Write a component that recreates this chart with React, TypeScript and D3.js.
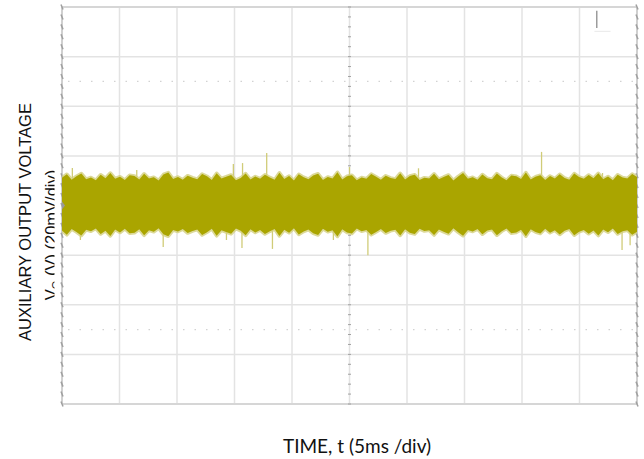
import React from "react";
import * as d3 from "d3";

// Time axis: 10 divisions of 5 ms; voltage axis: 8 divisions of 20 mV (AC-coupled, centred on 0)
const timeTicks = [0, 5, 10, 15, 20, 25, 30, 35, 40, 45, 50];
const voltTicks = [-80, -60, -40, -20, 0, 20, 40, 60, 80];
const dottedLevels = [-50, 50];

// Upper / lower envelope of the noise band (mV), sampled evenly across 0..50 ms
const upperEnv = [
  11.2, 12.6, 10.4, 11.8, 12.9, 10.6, 11.3, 10.2, 12.4, 11.0,
  13.1, 10.8, 11.6, 10.3, 12.2, 11.9, 10.5, 12.8, 10.9, 11.4,
  10.1, 12.5, 13.3, 10.7, 11.5, 10.4, 12.0, 11.2, 10.6, 12.7,
  11.8, 10.3, 13.0, 10.9, 11.6, 12.3, 10.2, 11.1, 12.9, 10.5,
  11.7, 10.8, 12.4, 11.3, 10.4, 13.2, 10.7, 11.9, 10.1, 12.6,
  11.4, 10.6, 12.1, 12.8, 10.3, 11.5, 10.9, 13.4, 10.5, 11.8,
  12.2, 10.2, 11.3, 10.8, 12.7, 11.6, 10.4, 12.0, 11.1, 10.7,
  13.0, 10.5, 11.9, 12.4, 10.3, 11.2, 10.9, 12.8, 10.6, 11.5,
  12.3, 10.1, 11.7, 13.1, 10.8, 11.4, 10.4, 12.5, 11.0, 10.6,
  12.9, 11.3, 10.2, 12.1, 11.8, 10.7, 13.3, 10.5, 11.6, 12.2,
  10.3, 11.9, 10.9, 12.6, 11.1, 10.4, 12.9, 11.5, 10.8, 12.3,
  11.0, 13.0, 10.6, 11.7, 10.2, 12.4, 11.3, 10.9, 12.7, 11.5,
];
const lowerEnv = [
  -10.1, -11.8, -9.5, -10.7, -12.1, -9.8, -10.4, -9.3, -11.5, -10.2,
  -12.3, -9.7, -10.9, -9.4, -11.2, -11.0, -9.6, -12.0, -10.0, -10.6,
  -9.2, -11.6, -12.4, -9.9, -10.5, -9.5, -11.1, -10.3, -9.7, -11.9,
  -10.8, -9.4, -12.2, -10.0, -10.7, -11.4, -9.3, -10.2, -12.0, -9.6,
  -10.9, -9.9, -11.5, -10.4, -9.5, -12.3, -9.8, -11.0, -9.2, -11.7,
  -10.5, -9.7, -11.2, -11.9, -9.4, -10.6, -10.0, -12.5, -9.6, -10.9,
  -11.3, -9.3, -10.4, -9.9, -11.8, -10.7, -9.5, -11.1, -10.2, -9.8,
  -12.1, -9.6, -11.0, -11.5, -9.4, -10.3, -10.0, -11.9, -9.7, -10.6,
  -11.4, -9.2, -10.8, -12.2, -9.9, -10.5, -9.5, -11.6, -10.1, -9.7,
  -12.0, -10.4, -9.3, -11.2, -10.9, -9.8, -12.4, -9.6, -10.7, -11.3,
  -9.4, -11.0, -10.0, -11.7, -10.2, -9.5, -12.0, -10.6, -9.9, -11.4,
  -10.1, -12.1, -9.7, -10.8, -9.3, -11.5, -10.4, -10.0, -11.8, -10.6,
];

// Isolated spikes (time ms, peak mV)
const spikeTimes = [0.9, 6.5, 14.9, 15.7, 17.8, 25.0, 31.0, 41.7, 47.0, 1.6, 8.8, 14.3, 15.65, 18.3, 23.6, 26.6, 48.7, 49.4];
const spikeValues = [15.1, 14.3, 16.7, 17.1, 21.2, 15.5, 15.0, 21.6, 13.1, -13.9, -16.7, -13.9, -17.1, -17.5, -13.9, -20.0, -17.9, -16.0];

const W = 644;
const H = 459;
const plot = { left: 62, right: 637, top: 7, bottom: 404 };

export default function App() {
  const x = d3.scaleLinear().domain([0, 50]).range([plot.left, plot.right]);
  const y = d3.scaleLinear().domain([-80, 80]).range([plot.bottom, plot.top]);

  const n = upperEnv.length;
  const sampleT = d3.range(n).map((i) => (i * 50) / (n - 1));
  const area = d3
    .area<number>()
    .x((_, i) => x(sampleT[i]))
    .y0((_, i) => y(lowerEnv[i]))
    .y1((d) => y(d))
    .curve(d3.curveLinear);
  const bandPath = area(upperEnv) || "";

  const divV = 20;
  const minorV = d3.range(-80, 80 + 0.001, divV / 5);

  const gridColor = "#e3e3e3";
  const tickColor = "#a0a0a0";

  return (
    <svg
      width={W}
      height={H}
      viewBox={`0 0 ${W} ${H}`}
      style={{ position: "fixed", left: 0, top: 0, background: "#fff" }}
    >
      <defs>
        <clipPath id="ylab2">
          <rect x={0} y={0} width={54.5} height={H} />
        </clipPath>
        <clipPath id="plotclip">
          <rect x={plot.left} y={plot.top} width={plot.right - plot.left} height={plot.bottom - plot.top} />
        </clipPath>
      </defs>

      {/* grid */}
      {timeTicks.map((t) => (
        <line key={"v" + t} x1={x(t)} x2={x(t)} y1={plot.top} y2={plot.bottom} stroke={gridColor} strokeWidth={1.5} />
      ))}
      {voltTicks.map((v) => (
        <line key={"h" + v} x1={plot.left} x2={plot.right} y1={y(v)} y2={y(v)} stroke={gridColor} strokeWidth={1.5} />
      ))}
      {dottedLevels.map((v) => (
        <line
          key={"d" + v}
          x1={plot.left + 6}
          x2={plot.right}
          y1={y(v)}
          y2={y(v)}
          stroke="#d2d2d2"
          strokeWidth={1.2}
          strokeDasharray="1.5 10"
        />
      ))}
      {/* frame */}
      <line x1={plot.left} x2={plot.right} y1={plot.top} y2={plot.top} stroke="#d6d6d6" strokeWidth={2} />
      <line x1={plot.left} x2={plot.right} y1={plot.bottom} y2={plot.bottom} stroke="#d6d6d6" strokeWidth={2} />
      <line x1={plot.left} x2={plot.left} y1={plot.top} y2={plot.bottom} stroke="#d0d0d0" strokeWidth={2} />
      <line x1={plot.right} x2={plot.right} y1={plot.top} y2={plot.bottom} stroke="#d0d0d0" strokeWidth={2} />

      {/* minor ticks on borders and centre line */}
      {minorV.map((v) => (
        <g key={"mv" + v}>
          <line x1={plot.left - 1} x2={plot.left + 1} y1={y(v) - 2.5} y2={y(v) + 2.5} stroke={tickColor} strokeWidth={1.5} />
          <line x1={plot.right - 1} x2={plot.right + 1} y1={y(v) - 2.5} y2={y(v) + 2.5} stroke={tickColor} strokeWidth={1.5} />
          <line x1={x(25) - 1.5} x2={x(25) + 1.5} y1={y(v)} y2={y(v)} stroke={tickColor} strokeWidth={1} />
        </g>
      ))}

      {/* spikes */}
      {spikeTimes.map((t, i) => (
        <line
          key={"s" + i}
          x1={x(t)}
          x2={x(t)}
          y1={y(0)}
          y2={y(spikeValues[i])}
          stroke="#d0cc78"
          strokeWidth={1.3}
        />
      ))}

      {/* noise band: soft halo then solid body */}
      <g clipPath="url(#plotclip)">
        <path d={bandPath} fill="#c9c564" stroke="#d3cf80" strokeWidth={3.5} strokeLinejoin="round" strokeOpacity={0.8} />
        <path d={bandPath} fill="#aaa500" />
      </g>

      {/* ground marker & trigger marker */}
      <path d={`M${plot.left},${y(0) - 4} L${plot.left + 3},${y(0)} L${plot.left},${y(0) + 4} Z`} fill="#9a9a9a" />
      <line x1={x(46.5)} x2={x(46.5)} y1={y(78.5)} y2={y(71.5)} stroke="#9c9c9c" strokeWidth={1.5} />
      <line x1={x(46.3)} x2={x(47.7)} y1={y(70.2)} y2={y(70.2)} stroke="#e8e8e8" strokeWidth={1} />

      {/* axis titles */}
      <text
        transform={`translate(31,222) rotate(-90)`}
        textAnchor="middle"
        fontFamily="'Liberation Sans', Arial, sans-serif"
        fontSize={16.5}
        fill="#111"
      >
        AUXILIARY OUTPUT VOLTAGE
      </text>
      <g clipPath="url(#ylab2)">
        <text
          transform={`translate(56.5,235) rotate(-90)`}
          textAnchor="middle"
          fontFamily="'Liberation Sans', Arial, sans-serif"
          fontSize={16.5}
          fill="#111"
        >
          V<tspan fontSize={11} dy={3}>O</tspan>
          <tspan dy={-3}> (V) (20mV/div)</tspan>
        </text>
      </g>
      <text
        x={357}
        y={453}
        textAnchor="middle"
        fontFamily="Lato, 'Open Sans', sans-serif"
        fontSize={19}
        fill="#111"
      >
        TIME, t (5ms /div)
      </text>
    </svg>
  );
}
